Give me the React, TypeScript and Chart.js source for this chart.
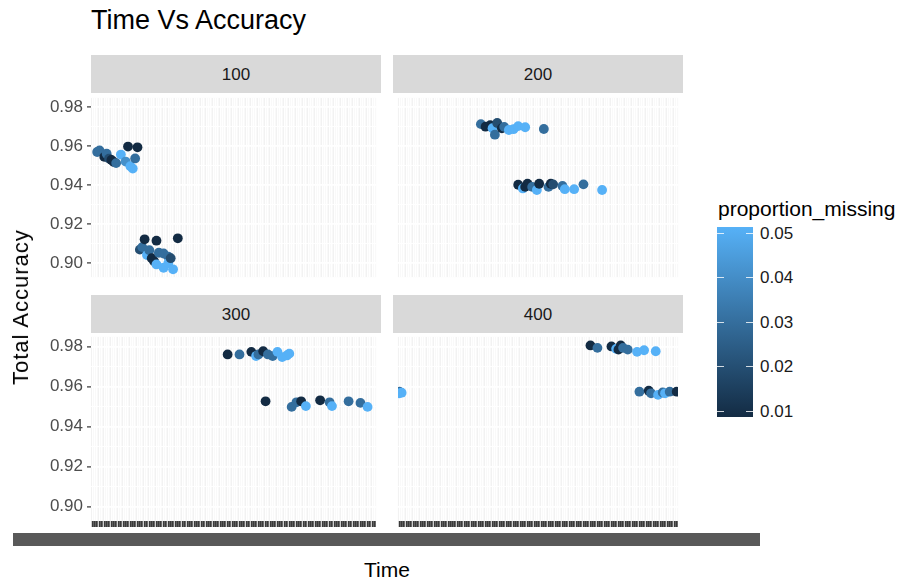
import React, { useEffect, useRef } from "react";
import { Chart, registerables } from "chart.js";
Chart.register(...registerables);

// ---- scales / labels ----
const N_TIME_LEVELS = 120;
const Y_MIN = 0.8929;
const Y_MAX = 0.98487;
const Y_MAJOR = [0.9, 0.92, 0.94, 0.96, 0.98];
const Y_MINOR = [0.91, 0.93, 0.95, 0.97];
const FACETS = ["100", "200", "300", "400"];
const LEGEND_BREAKS = [0.05, 0.04, 0.03, 0.02, 0.01];
const COLOR_LOW = "#132B43";
const COLOR_HIGH = "#56B1F7";
const MISS_MIN = 0.01;
const MISS_MAX = 0.05;

// ---- facet 100 ----
const time100 = [3, 4, 6, 7, 8, 9, 10, 11, 13, 15, 16, 17, 18, 19, 20, 21, 22, 23, 24, 25, 26, 27, 28, 28, 29, 31, 31, 33, 33, 34, 35, 37];
const acc100 = [0.9571, 0.9579, 0.9546, 0.9562, 0.9537, 0.953, 0.952, 0.9514, 0.9558, 0.9522, 0.9599, 0.9498, 0.9486, 0.9538, 0.9595, 0.907, 0.9083, 0.9123, 0.9042, 0.9067, 0.9026, 0.901, 0.9116, 0.8994, 0.9054, 0.905, 0.8977, 0.9034, 0.9001, 0.9026, 0.8969, 0.9128];
const miss100 = [0.03, 0.03, 0.01, 0.03, 0.02, 0.01, 0.01, 0.03, 0.05, 0.04, 0.01, 0.05, 0.05, 0.03, 0.01, 0.02, 0.03, 0.01, 0.05, 0.03, 0.01, 0.01, 0.01, 0.05, 0.03, 0.03, 0.05, 0.03, 0.05, 0.02, 0.05, 0.01];

// ---- facet 200 ----
const time200 = [36, 38, 40, 41, 42, 43, 45, 46, 48, 50, 52, 55, 63, 52, 54, 55, 56, 58, 60, 61, 65, 66, 67, 71, 72, 76, 80, 88];
const acc200 = [0.9714, 0.9701, 0.9709, 0.9693, 0.966, 0.972, 0.9693, 0.97, 0.9684, 0.9688, 0.9704, 0.9698, 0.9689, 0.9403, 0.9384, 0.9392, 0.9408, 0.9392, 0.9376, 0.9408, 0.9392, 0.9408, 0.9405, 0.9397, 0.938, 0.938, 0.9405, 0.9376];
const miss200 = [0.03, 0.01, 0.01, 0.05, 0.03, 0.02, 0.01, 0.03, 0.05, 0.05, 0.05, 0.05, 0.03, 0.01, 0.05, 0.01, 0.01, 0.03, 0.05, 0.01, 0.03, 0.01, 0.02, 0.03, 0.05, 0.05, 0.03, 0.05];

// ---- facet 300 ----
const time300 = [58, 63, 68, 70, 71, 73, 75, 77, 79, 81, 83, 84, 74, 85, 87, 89, 91, 97, 101, 102, 109, 114, 117];
const acc300 = [0.9761, 0.9761, 0.9774, 0.9753, 0.9761, 0.9777, 0.9761, 0.9753, 0.9774, 0.9748, 0.9756, 0.9765, 0.9527, 0.9499, 0.9522, 0.9527, 0.9503, 0.9532, 0.9522, 0.9503, 0.9527, 0.9519, 0.9499];
const miss300 = [0.01, 0.03, 0.01, 0.05, 0.03, 0.01, 0.03, 0.03, 0.05, 0.05, 0.05, 0.05, 0.01, 0.03, 0.03, 0.01, 0.05, 0.01, 0.03, 0.05, 0.03, 0.03, 0.05];

// ---- facet 400 ----
const time400 = [1, 1, 2, 83, 86, 92, 94, 95, 96, 97, 99, 103, 106, 111, 104, 108, 109, 112, 114, 115, 117, 120];
const acc400 = [0.9575, 0.9567, 0.957, 0.9806, 0.9794, 0.9801, 0.9789, 0.9785, 0.9806, 0.9794, 0.9785, 0.9774, 0.9782, 0.9777, 0.9575, 0.958, 0.9567, 0.9559, 0.9571, 0.9567, 0.9575, 0.9575];
const miss400 = [0.03, 0.05, 0.05, 0.01, 0.03, 0.01, 0.05, 0.01, 0.01, 0.03, 0.03, 0.05, 0.05, 0.05, 0.03, 0.01, 0.03, 0.05, 0.03, 0.05, 0.03, 0.01];

const FONT = "'Liberation Sans', Arial, Helvetica, sans-serif";

function hexToRgb(h: string) {
  const n = parseInt(h.slice(1), 16);
  return [(n >> 16) & 255, (n >> 8) & 255, n & 255];
}
function colorFor(v: number) {
  const t = Math.max(0, Math.min(1, (v - MISS_MIN) / (MISS_MAX - MISS_MIN)));
  const a = hexToRgb(COLOR_LOW);
  const b = hexToRgb(COLOR_HIGH);
  const c = a.map((x, i) => Math.round(x + (b[i] - x) * t));
  return `rgb(${c[0]},${c[1]},${c[2]})`;
}

const bgPlugin = {
  id: "panelBg",
  beforeDraw(chart: any) {
    const { ctx, chartArea } = chart;
    ctx.save();
    ctx.fillStyle = "#F2F2F2";
    ctx.fillRect(chartArea.left, chartArea.top, chartArea.right - chartArea.left, chartArea.bottom - chartArea.top);
    ctx.restore();
  },
};

type PanelProps = {
  time: number[];
  acc: number[];
  miss: number[];
  left: number;
  top: number;
  width: number;
  height: number;
  yAxisWidth: number;
  xAxisHeight: number;
};

function Panel(p: PanelProps) {
  const ref = useRef<HTMLCanvasElement>(null);
  useEffect(() => {
    const levels = Array.from({ length: N_TIME_LEVELS }, (_, i) => i + 1);
    const yTicks = [...Y_MAJOR, ...Y_MINOR].sort((a, b) => a - b);
    const showY = p.yAxisWidth > 0;
    const showX = p.xAxisHeight > 0;
    const chart = new Chart(ref.current as HTMLCanvasElement, {
      type: "scatter",
      data: {
        datasets: [
          {
            data: p.time.map((t, i) => ({ x: t, y: p.acc[i] })),
            pointBackgroundColor: p.miss.map(colorFor),
            pointBorderWidth: 0,
            pointRadius: 4.9,
            pointHoverRadius: 4.9,
          },
        ],
      },
      options: {
        responsive: false,
        animation: false,
        events: [],
        layout: { padding: 0 },
        plugins: { legend: { display: false }, tooltip: { enabled: false } },
        scales: {
          x: {
            type: "linear",
            min: 0.4,
            max: N_TIME_LEVELS + 0.6,
            afterBuildTicks: (s: any) => {
              s.ticks = levels.map((v) => ({ value: v }));
            },
            afterFit: (s: any) => {
              s.height = p.xAxisHeight;
              s.paddingLeft = 0;
              s.paddingRight = 0;
              s.paddingTop = 0;
              s.paddingBottom = 0;
            },
            ticks: { display: false, autoSkip: false },
            border: { display: false },
            grid: {
              color: "#FFFFFF",
              lineWidth: 1.5,
              drawTicks: showX,
              tickLength: 6,
              tickColor: "#3A3A3A",
              tickWidth: 2,
            },
          },
          y: {
            type: "linear",
            min: Y_MIN,
            max: Y_MAX,
            afterBuildTicks: (s: any) => {
              s.ticks = yTicks.map((v) => ({ value: v }));
            },
            afterFit: (s: any) => {
              s.width = p.yAxisWidth;
              s.paddingLeft = 0;
              s.paddingRight = 0;
              s.paddingTop = 0;
              s.paddingBottom = 0;
            },
            ticks: {
              display: showY,
              autoSkip: false,
              padding: 4,
              color: "#4D4D4D",
              font: { family: FONT, size: 17 },
              callback: (v: any) => (Y_MAJOR.includes(v) ? Number(v).toFixed(2) : ""),
            },
            border: { display: false },
            grid: {
              color: "#FFFFFF",
              lineWidth: (c: any) => (Y_MAJOR.includes(c.tick?.value) ? 1.8 : 0.9),
              drawTicks: showY,
              tickLength: 4,
              tickWidth: 1.2,
              tickColor: (c: any) => (Y_MAJOR.includes(c.tick?.value) ? "#333333" : "rgba(0,0,0,0)"),
            },
          },
        },
      },
      plugins: [bgPlugin],
    } as any);
    return () => chart.destroy();
  }, []);
  return (
    <canvas
      ref={ref}
      width={p.width}
      height={p.height}
      style={{ position: "absolute", left: p.left, top: p.top, width: p.width, height: p.height }}
    />
  );
}

function Strip({ label, left, top }: { label: string; left: number; top: number }) {
  return (
    <div
      style={{
        position: "absolute",
        left,
        top,
        width: 290,
        height: 38,
        background: "#D9D9D9",
        display: "flex",
        alignItems: "center",
        justifyContent: "center",
        fontSize: 17,
        lineHeight: "17px",
        color: "#1A1A1A",
      }}
    >
      {label}
    </div>
  );
}

export default function App() {
  const panelData = [
    { t: time100, a: acc100, m: miss100 },
    { t: time200, a: acc200, m: miss200 },
    { t: time300, a: acc300, m: miss300 },
    { t: time400, a: acc400, m: miss400 },
  ];
  const cols = [91, 393];
  const stripTops = [55, 295];
  const plotTops = [93, 332];
  return (
    <div
      style={{
        position: "absolute",
        left: 0,
        top: 0,
        width: 899,
        height: 583,
        background: "#FFFFFF",
        fontFamily: FONT,
        overflow: "hidden",
      }}
    >
      <div style={{ position: "absolute", left: 91, top: 7, fontSize: 27, lineHeight: "27px", color: "#000", whiteSpace: "nowrap" }}>
        Time Vs Accuracy
      </div>
      {FACETS.map((f, i) => {
        const col = i % 2;
        const row = Math.floor(i / 2);
        const d = panelData[i];
        const yW = col === 0 ? 61 : 0;
        const xH = row === 1 ? 6 : 0;
        return (
          <React.Fragment key={f}>
            <Strip label={f} left={cols[col]} top={stripTops[row]} />
            <Panel
              time={d.t}
              acc={d.a}
              miss={d.m}
              left={cols[col] - yW}
              top={plotTops[row]}
              width={290 + yW}
              height={189 + xH}
              yAxisWidth={yW}
              xAxisHeight={xH}
            />
          </React.Fragment>
        );
      })}
      {/* overlapping Time tick labels form a solid band */}
      <div style={{ position: "absolute", left: 13, top: 533, width: 747, height: 13, background: "#595959" }} />
      <div
        style={{
          position: "absolute",
          left: 387,
          top: 559,
          transform: "translateX(-50%)",
          fontSize: 21,
          lineHeight: "21px",
          color: "#000",
          whiteSpace: "nowrap",
        }}
      >
        Time
      </div>
      <div
        style={{
          position: "absolute",
          left: 21,
          top: 307,
          transform: "translate(-50%, -50%) rotate(-90deg)",
          fontSize: 22,
          lineHeight: "22px",
          letterSpacing: 1,
          color: "#000",
          whiteSpace: "nowrap",
        }}
      >
        Total Accuracy
      </div>
      {/* legend */}
      <div style={{ position: "absolute", left: 718, top: 198, fontSize: 21, lineHeight: "21px", color: "#000", whiteSpace: "nowrap" }}>
        proportion_missing
      </div>
      <div
        style={{
          position: "absolute",
          left: 717,
          top: 227,
          width: 36,
          height: 190,
          background: `linear-gradient(to bottom, ${COLOR_HIGH}, ${COLOR_LOW})`,
        }}
      />
      {LEGEND_BREAKS.map((b, i) => {
        const cy = 233 + i * 44.5;
        return (
          <React.Fragment key={b}>
            <div style={{ position: "absolute", left: 717, top: cy - 0.5, width: 7, height: 1.2, background: "#FFFFFF", opacity: 0.8 }} />
            <div style={{ position: "absolute", left: 746, top: cy - 0.5, width: 7, height: 1.2, background: "#FFFFFF", opacity: 0.8 }} />
            <div style={{ position: "absolute", left: 760, top: cy - 8.5, fontSize: 17, lineHeight: "17px", color: "#1A1A1A" }}>
              {b.toFixed(2)}
            </div>
          </React.Fragment>
        );
      })}
    </div>
  );
}
